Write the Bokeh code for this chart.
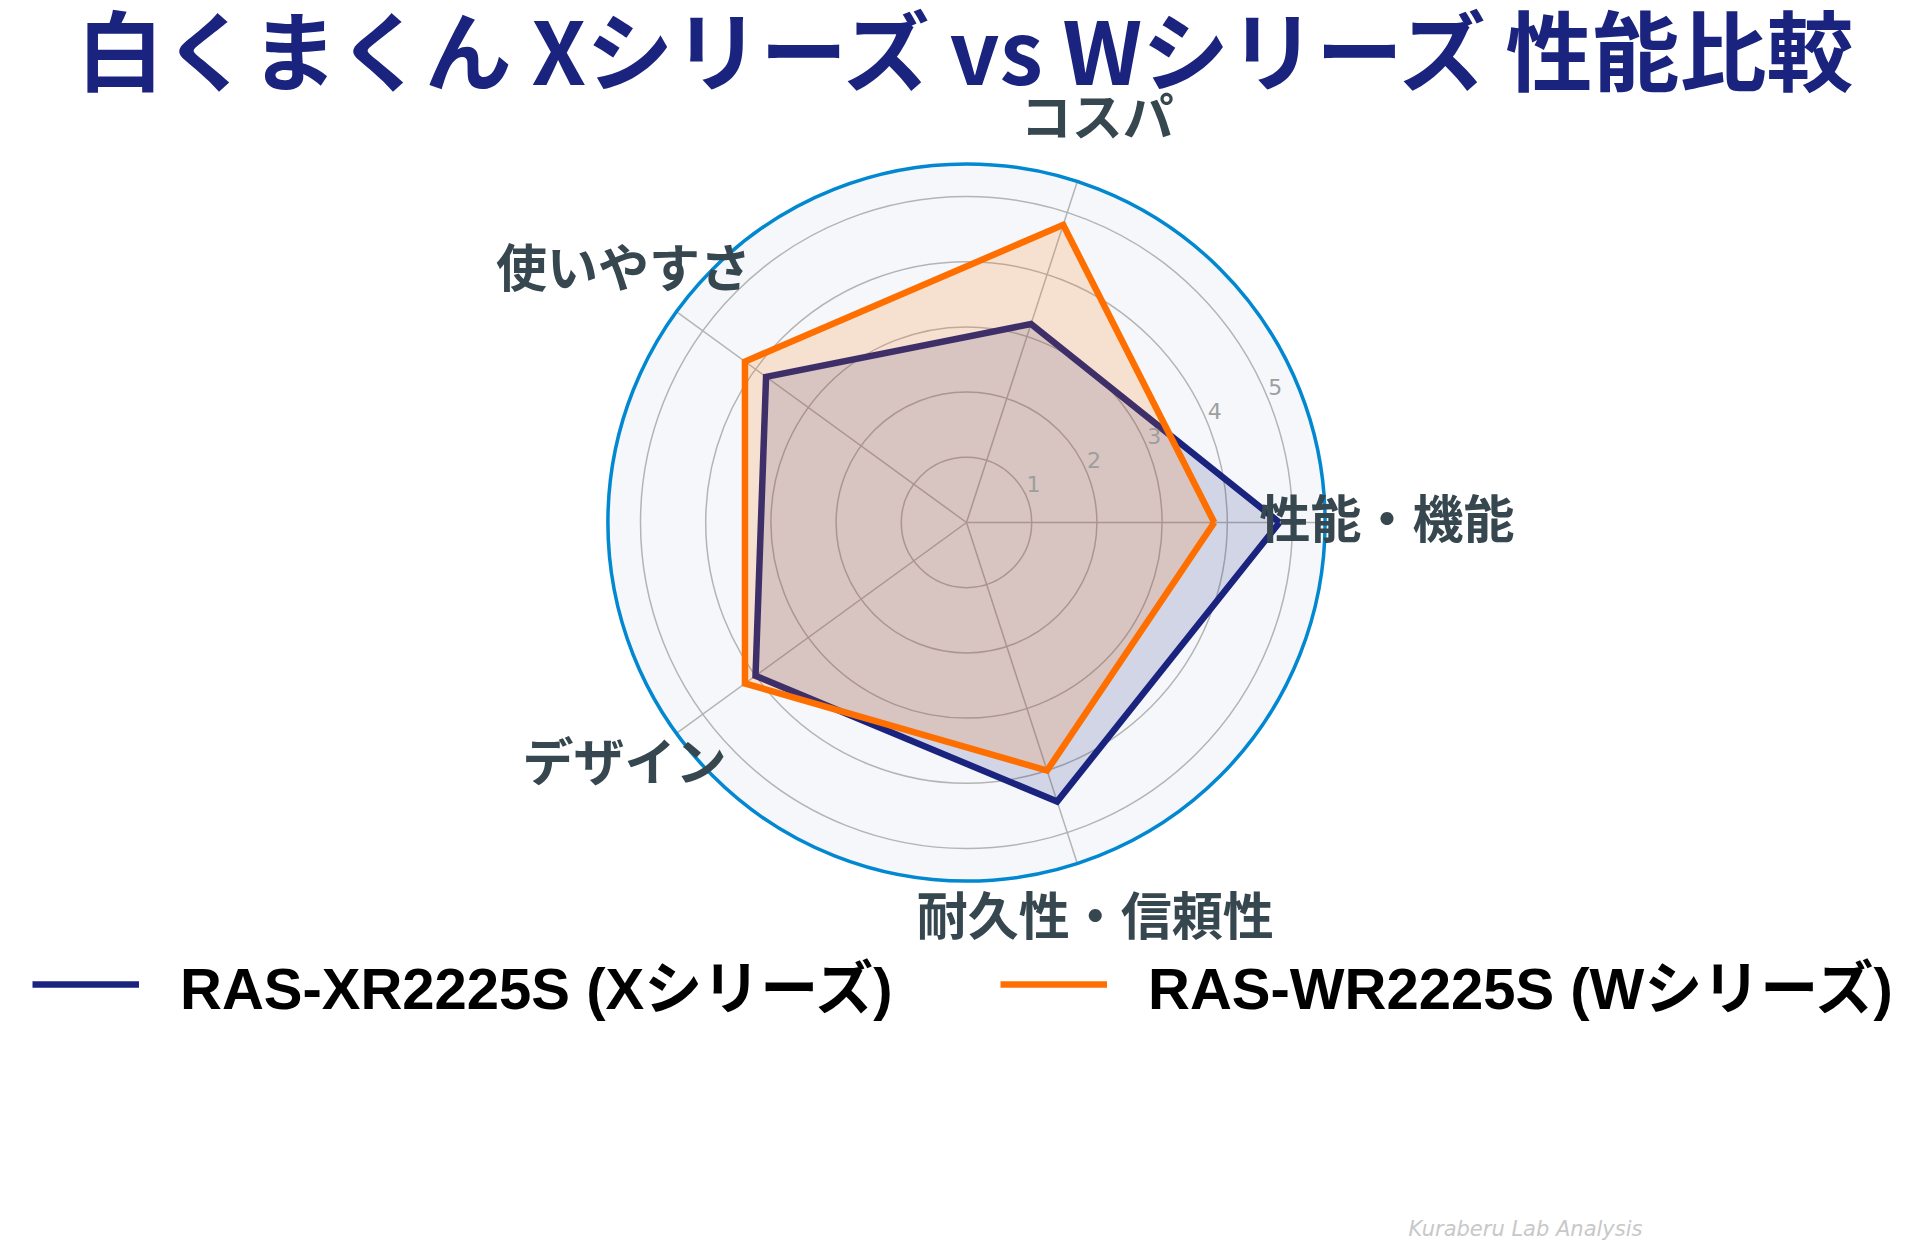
import math

from bokeh.plotting import figure
from bokeh.models import Range1d, Legend, LegendItem
from bokeh.embed import file_html
from bokeh.resources import INLINE

categories = ["性能・機能", "コスパ", "使いやすさ", "デザイン", "耐久性・信頼性"]
x_series = [4.8, 3.2, 3.8, 4.0, 4.5]
w_series = [3.8, 4.8, 4.2, 4.2, 4.0]
series_names = ["RAS-XR2225S (Xシリーズ)", "RAS-WR2225S (Wシリーズ)"]
radial_ticks = [1, 2, 3, 4, 5]
r_max = 5.5

title = "白くまくん Xシリーズ vs Wシリーズ 性能比較"
watermark = "Kuraberu Lab Analysis"

NAVY = "#1a237e"
ORANGE = "#ff6f00"
GRID = "#b4b4b4"
LABEL = "#37474f"
JP = "Noto Sans CJK JP"

W, H = 1924, 1246
unit = 65.2          # px per radial unit
cx, cy = 966, 522    # polar centre in screen px

p = figure(width=W, height=H, output_backend="svg", toolbar_location=None,
           x_range=Range1d(-cx / unit, (W - cx) / unit),
           y_range=Range1d(-(H - cy) / unit, cy / unit),
           min_border=0, outline_line_color=None)
p.axis.visible = False
p.grid.visible = False
p.background_fill_color = "white"

# first category points east, the rest go counter-clockwise
angles = [math.radians(360 / len(categories) * i) for i in range(len(categories))]


def to_xy(vals):
    xs = [v * math.cos(a) for v, a in zip(vals, angles)]
    ys = [v * math.sin(a) for v, a in zip(vals, angles)]
    return xs, ys


# polar background, grid rings, spokes
p.circle(x=[0], y=[0], radius=r_max, fill_color="#f5f7fa", line_color=None)
p.circle(x=[0] * len(radial_ticks), y=[0] * len(radial_ticks), radius=radial_ticks,
         fill_color=None, line_color=GRID, line_width=1.5)
sx, sy = to_xy([r_max] * len(categories))
p.segment(x0=[0] * len(categories), y0=[0] * len(categories), x1=sx, y1=sy,
          line_color=GRID, line_width=1.5)
p.circle(x=[0], y=[0], radius=r_max, fill_color=None, line_color="#0288d1", line_width=3.5)

# series
renderers = []
for vals, color in [(x_series, NAVY), (w_series, ORANGE)]:
    xs, ys = to_xy(vals)
    p.patch(xs, ys, fill_color=color, fill_alpha=0.16, line_color=None)
    r = p.line(xs + xs[:1], ys + ys[:1], line_color=color, line_width=6.5, line_join="miter")
    renderers.append(r)

# radial tick labels
ta = math.radians(22)
p.text(x=[t * math.cos(ta) for t in radial_ticks], y=[t * math.sin(ta) for t in radial_ticks],
       text=[str(t) for t in radial_ticks], x_offset=6.5, y_offset=-13.7,
       text_font_size="22px", text_color="#9e9e9e", text_font={"value": "DejaVu Sans"},
       text_align="center", text_baseline="middle")

# category labels
label_offsets = [(62, -7), (20, -67), (-53, -47), (-52, 26), (18, 49)]
lx, ly = to_xy([r_max] * len(categories))
for i, cat in enumerate(categories):
    p.text(x=[lx[i]], y=[ly[i]], text=[cat], x_offset=label_offsets[i][0], y_offset=label_offsets[i][1],
           text_font_size="51px", text_font_style="bold", text_color=LABEL,
           text_font={"value": JP}, text_align="center", text_baseline="middle")

# title
p.text(x=[0], y=[(cy - 46) / unit], text=[title], x_offset=3,
       text_font_size="87px", text_font_style="bold", text_color=NAVY,
       text_font={"value": JP}, text_align="center", text_baseline="middle")

# watermark
p.text(x=[(1408 - cx) / unit], y=[(cy - 1228) / unit], text=[watermark],
       text_font_size="21px", text_font_style="italic", text_color="#c8c8c8",
       text_font={"value": "DejaVu Sans"}, text_align="left", text_baseline="middle")

# legends
for name, r, loc in zip(series_names, renderers, [(32, 220), (1000, 220)]):
    leg = Legend(items=[LegendItem(label=name, renderers=[r])], location=loc,
                 orientation="horizontal", padding=0, margin=0, border_line_color=None,
                 background_fill_alpha=0, glyph_width=107, label_standoff=41,
                 label_text_font_size="58px", label_text_color="black",
                 label_text_font="Liberation Sans, Noto Sans CJK JP", label_text_font_style="bold")
    p.add_layout(leg)

open("out.html", "w").write(file_html(p, INLINE))
